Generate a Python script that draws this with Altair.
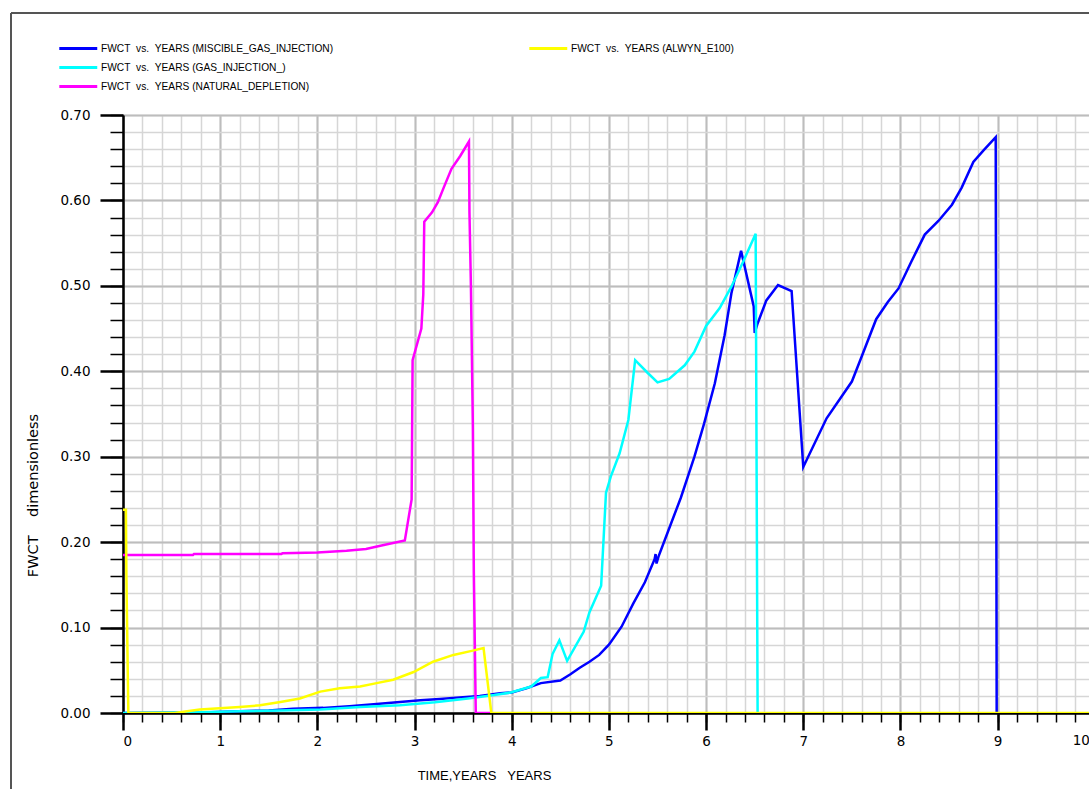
import altair as alt
import pandas as pd

# ---- water cut (FWCT) against time in years, one pair of lists per case ----
t_miscible = [0.0, 0.9, 1.2, 1.5, 1.75, 2.06, 2.33, 2.61, 2.85, 3.06, 3.26, 3.43, 3.67, 3.88,
              4.0, 4.15, 4.30, 4.50, 4.60, 4.70, 4.80, 4.90, 5.0, 5.13, 5.25, 5.37, 5.47, 5.48,
              5.49, 5.51, 5.61, 5.74, 5.88, 5.98, 6.09, 6.19, 6.26, 6.36, 6.49, 6.50, 6.53,
              6.62, 6.74, 6.88, 7.0, 7.24, 7.50, 7.60, 7.75, 7.87, 7.98, 8.11, 8.25, 8.39,
              8.53, 8.63, 8.75, 8.85, 8.98, 8.99]
v_miscible = [0.0, 0.001, 0.002, 0.003, 0.005, 0.006, 0.008, 0.0105, 0.013, 0.015, 0.0165, 0.018,
              0.020, 0.023, 0.024, 0.029, 0.035, 0.038, 0.045, 0.053, 0.060, 0.068, 0.080, 0.101,
              0.128, 0.153, 0.180, 0.186, 0.175, 0.183, 0.213, 0.252, 0.300, 0.339, 0.386, 0.442,
              0.491, 0.541, 0.476, 0.445, 0.456, 0.483, 0.501, 0.494, 0.288, 0.345, 0.388, 0.417,
              0.461, 0.481, 0.497, 0.528, 0.560, 0.576, 0.595, 0.615, 0.645, 0.658, 0.674, 0.0]

t_gas = [0.0, 0.8, 1.2, 1.62, 2.03, 2.44, 2.85, 3.21, 3.55, 3.82, 3.99, 4.20, 4.30, 4.37, 4.42,
         4.49, 4.57, 4.74, 4.80, 4.92, 4.97, 5.02, 5.11, 5.20, 5.27, 5.40, 5.50, 5.62, 5.78, 5.88,
         6.00, 6.14, 6.26, 6.38, 6.51, 6.52, 6.53]
v_gas = [0.0, 0.001, 0.002, 0.003, 0.004, 0.007, 0.009, 0.0125, 0.017, 0.021, 0.024, 0.031, 0.041,
         0.042, 0.069, 0.085, 0.061, 0.095, 0.118, 0.149, 0.258, 0.277, 0.304, 0.343, 0.413, 0.398,
         0.387, 0.391, 0.407, 0.423, 0.453, 0.474, 0.499, 0.528, 0.561, 0.277, 0.0]

t_natural = [0.0, 0.72, 0.73, 1.63, 1.64, 2.0, 2.3, 2.5, 2.66, 2.9, 2.97, 2.98, 3.07, 3.09, 3.10,
             3.18, 3.24, 3.30, 3.38, 3.47, 3.56, 3.565, 3.58, 3.60, 3.61, 3.63, 3.78]
v_natural = [0.185, 0.185, 0.186, 0.186, 0.187, 0.188, 0.190, 0.192, 0.196, 0.202, 0.250, 0.413,
             0.450, 0.490, 0.575, 0.586, 0.598, 0.615, 0.637, 0.652, 0.669, 0.586, 0.500, 0.336,
             0.165, 0.0, 0.0]

t_alwyn = [0.0, 0.03, 0.035, 0.045, 0.055, 0.53, 0.79, 1.2, 1.41, 1.62, 1.82, 2.03, 2.23, 2.44,
           2.61, 2.78, 2.99, 3.19, 3.40, 3.60, 3.71, 3.79, 10.0]
v_alwyn = [0.238, 0.238, 0.16, 0.08, 0.0, 0.0, 0.004, 0.007, 0.009, 0.013, 0.017, 0.025, 0.029,
           0.031, 0.035, 0.039, 0.048, 0.060, 0.068, 0.073, 0.076, 0.0, 0.0]

NB = "\u00a0"
name_miscible = f"FWCT{NB}{NB}vs.{NB}{NB}YEARS (MISCIBLE_GAS_INJECTION)"
name_gas = f"FWCT{NB}{NB}vs.{NB}{NB}YEARS (GAS_INJECTION_)"
name_natural = f"FWCT{NB}{NB}vs.{NB}{NB}YEARS (NATURAL_DEPLETION)"
name_alwyn = f"FWCT{NB}{NB}vs.{NB}{NB}YEARS (ALWYN_E100)"

x_major = list(range(0, 10))
x_minor = [round(i * 0.2, 1) for i in range(0, 50)]
y_major = [round(i * 0.1, 2) for i in range(0, 8)]
y_minor = [round(i * 0.02, 2) for i in range(0, 36)]


def frame(name, ts, vs):
    return pd.DataFrame({"series": name, "t": ts, "v": vs, "i": range(len(ts))})


main_df = pd.concat([
    frame(name_miscible, t_miscible, v_miscible),
    frame(name_gas, t_gas, v_gas),
    frame(name_natural, t_natural, v_natural),
])
alwyn_df = frame(name_alwyn, t_alwyn, v_alwyn)

FONT = "Liberation Sans"
TICK_FONT = "DejaVu Sans"
W, H = 966, 598

x_scale = alt.Scale(domain=[0, 9.94], nice=False, zero=False)
y_scale = alt.Scale(domain=[0, 0.70], nice=False)

# long legend swatch: a horizontal stroke reaching far left of a small nominal symbol,
# so rows stay tight while the swatch stays long
legend_common = dict(
    title=None, orient="none", symbolType="M-7,0H1", symbolSize=90, symbolStrokeWidth=3,
    labelFont=FONT, labelFontSize=10.2, labelColor="black", labelLimit=400,
    labelOffset=2, rowPadding=6, padding=0, direction="vertical",
)

# fine grid + short ticks
x_minor_axis = alt.Axis(values=x_minor, labels=False,
                        title=f"TIME,YEARS{NB}{NB}{NB}YEARS",
                        titleX=361, titleY=62, titleFont=FONT, titleFontSize=13,
                        titleFontWeight="normal", titleColor="black", titleBaseline="middle",
                        grid=True, gridColor="#d6d6d6", gridWidth=1.5,
                        tickSize=9, tickColor="black", tickWidth=1.5,
                        domainColor="black", domainWidth=2.5, orient="bottom")
y_minor_axis = alt.Axis(values=y_minor, labels=False,
                        title=f"FWCT{NB}{NB}{NB}{NB}dimensionless",
                        titleX=-90, titleY=380, titleFont=TICK_FONT, titleFontSize=14.5,
                        titleFontWeight="normal", titleColor="black", titleAlign="center",
                        titleBaseline="middle", titleAngle=270,
                        grid=True, gridColor="#d6d6d6", gridWidth=1.5,
                        tickSize=13, tickColor="black", tickWidth=1.5,
                        domainColor="black", domainWidth=2.5, orient="left")

# coarse grid + long ticks with labels
x_major_axis = alt.Axis(values=x_major, title=None, labelFont=TICK_FONT, labelFontSize=13.5,
                        labelColor="black", labelPadding=4, labelBaseline="top",
                        grid=True, gridColor="#bdbdbd", gridWidth=2,
                        tickSize=17, tickColor="black", tickWidth=2.5,
                        domain=False, orient="bottom")
y_major_axis = alt.Axis(values=y_major, title=None, format=".2f", labelFont=TICK_FONT,
                        labelFontSize=13.5, labelColor="black", labelPadding=10,
                        grid=True, gridColor="#bdbdbd", gridWidth=2,
                        tickSize=23, tickColor="black", tickWidth=2.5,
                        domain=False, orient="left")

main_lines = alt.Chart(main_df).mark_line(strokeWidth=2.5, clip=True).encode(
    x=alt.X("t:Q", scale=x_scale, axis=x_minor_axis),
    y=alt.Y("v:Q", scale=y_scale, axis=y_minor_axis),
    color=alt.Color("series:N",
                    scale=alt.Scale(domain=[name_miscible, name_gas, name_natural],
                                    range=["#0000ff", "#00ffff", "#ff00ff"]),
                    legend=alt.Legend(legendX=-37, legendY=-73, **legend_common)),
    order="i:Q",
)

alwyn_line = alt.Chart(alwyn_df).mark_line(strokeWidth=2.5, clip=True).encode(
    x=alt.X("t:Q", scale=x_scale, axis=x_major_axis),
    y=alt.Y("v:Q", scale=y_scale, axis=y_major_axis),
    stroke=alt.Stroke("series:N",
                      scale=alt.Scale(domain=[name_alwyn], range=["#ffff00"]),
                      legend=alt.Legend(legendX=433, legendY=-73, **legend_common)),
    order="i:Q",
)

# last x label, sitting at the right edge of the page
last_label = alt.Chart(pd.DataFrame({"t": [10], "label": ["10"]})).mark_text(
    font=TICK_FONT, fontSize=13.5, color="black", align="right", baseline="top", dx=-5, dy=21,
).encode(
    x=alt.X("t:Q", scale=x_scale, axis=None),
    y=alt.value(H),
    text="label:N",
)

# outer page frame (top and left edges)
one = alt.Data(values=[{}])
frame_top = alt.Chart(one).mark_rule(color="#555555", strokeWidth=2).encode(
    x=alt.value(-112), x2=alt.value(W), y=alt.value(-102))
frame_left = alt.Chart(one).mark_rule(color="#555555", strokeWidth=2).encode(
    x=alt.value(-112), y=alt.value(-102), y2=alt.value(H + 80))

chart = alt.layer(main_lines, alwyn_line, last_label, frame_top, frame_left).resolve_axis(
    x="independent", y="independent"
).properties(
    width=W, height=H,
    padding={"left": 123, "top": 115, "right": 0, "bottom": 76},
    autosize=alt.AutoSizeParams(type="none"),
    background="white",
).configure_view(strokeWidth=0)

chart.save("out.html", embed_options={"renderer": "svg", "actions": False})
